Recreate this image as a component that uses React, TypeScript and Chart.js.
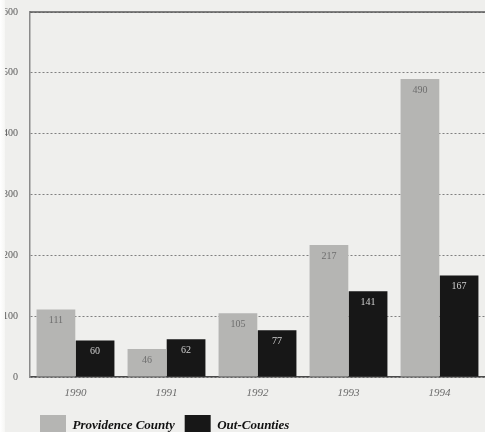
import React, { useEffect, useRef } from "react";
import { Chart, registerables } from "chart.js";

Chart.register(...registerables);

const years = ["1990", "1991", "1992", "1993", "1994"];
const providenceCounty = [111, 46, 105, 217, 490];
const outCounties = [60, 62, 77, 141, 167];
const seriesNames = ["Providence County", "Out-Counties"];
const yMin = 0;
const yMax = 600;
const yStep = 100;

const SERIF = "'Liberation Serif', 'DejaVu Serif', serif";

const valueLabels = {
  id: "valueLabels",
  afterDatasetsDraw(chart: any) {
    const ctx = chart.ctx;
    ctx.save();
    ctx.font = `10px ${SERIF}`;
    ctx.textAlign = "center";
    ctx.textBaseline = "middle";
    chart.data.datasets.forEach((ds: any, di: number) => {
      const meta = chart.getDatasetMeta(di);
      meta.data.forEach((bar: any, i: number) => {
        ctx.fillStyle = di === 0 ? "#6e6e6e" : "#cfcfcf";
        ctx.fillText(String(ds.data[i]), bar.x, bar.y + 11);
      });
    });
    ctx.restore();
  },
};

const topLine = {
  id: "topLine",
  afterDraw(chart: any) {
    const { ctx, chartArea } = chart;
    ctx.save();
    ctx.strokeStyle = "#5a5a5a";
    ctx.lineWidth = 1.5;
    ctx.beginPath();
    ctx.moveTo(chartArea.left, chartArea.top);
    ctx.lineTo(chartArea.right, chartArea.top);
    ctx.stroke();
    ctx.restore();
  },
};

export default function App() {
  const ref = useRef<HTMLCanvasElement | null>(null);
  useEffect(() => {
    document.body.style.margin = "0";
    const canvas = ref.current!;
    const chart = new Chart(canvas, {
      type: "bar",
      data: {
        labels: years,
        datasets: [
          {
            label: seriesNames[0],
            data: providenceCounty,
            backgroundColor: "#b5b5b3",
            borderWidth: 0,
            categoryPercentage: 0.86,
            barPercentage: 0.99,
          },
          {
            label: seriesNames[1],
            data: outCounties,
            backgroundColor: "#171717",
            borderWidth: 0,
            categoryPercentage: 0.86,
            barPercentage: 0.99,
          },
        ],
      },
      options: {
        responsive: false,
        animation: false,
        devicePixelRatio: 1,
        layout: { padding: { top: 5, right: 2, left: 0, bottom: 0 } },
        plugins: {
          legend: {
            position: "bottom",
            fullSize: false,
            align: "start",
            labels: {
              boxWidth: 26,
              boxHeight: 22,
              padding: 10,
              color: "#111",
              font: { family: SERIF, size: 13, style: "italic", weight: "bold" },
            },
          },
          tooltip: { enabled: false },
        },
        scales: {
          x: {
            grid: { display: false, drawTicks: false },
            border: { display: true, color: "#4a4a4a", width: 1.5 },
            ticks: {
              color: "#6a6a6a",
              padding: 10,
              font: { family: SERIF, size: 11, style: "italic" },
            },
            afterFit(scale: any) {
              scale.height = 28;
            },
          },
          y: {
            min: yMin,
            max: yMax,
            grid: { color: "#808080", lineWidth: 1, drawTicks: false },
            border: { display: true, color: "#8a8a8a", width: 1.5, dash: [2, 2] },
            ticks: {
              stepSize: yStep,
              color: "#5a5a5a",
              padding: 12,
              font: { family: SERIF, size: 10 },
            },
            afterFit(scale: any) {
              scale.width = 45;
            },
          },
        },
      },
      plugins: [valueLabels, topLine],
    });
    return () => chart.destroy();
  }, []);
  return (
    <div
      style={{
        position: "relative",
        width: 485,
        height: 432,
        overflow: "hidden",
        background: "#efefed",
      }}
    >
      <canvas
        ref={ref}
        width={502}
        height={453}
        style={{ position: "absolute", left: -15, top: -6 }}
      />
      <div
        style={{
          position: "absolute",
          left: 0,
          top: 0,
          width: 5,
          height: 432,
          background: "linear-gradient(to right, #ffffff, #f6f6f4)",
        }}
      />
    </div>
  );
}
